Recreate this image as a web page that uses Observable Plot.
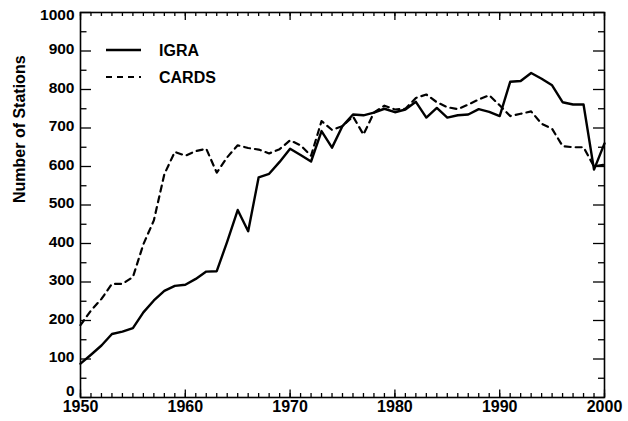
<!DOCTYPE html>
<html><head><meta charset="utf-8">
<script src="https://cdn.jsdelivr.net/npm/d3@7"></script>
<script src="https://cdn.jsdelivr.net/npm/@observablehq/plot@0.6"></script>
<style>body{margin:0;background:#fff}</style>
</head><body><div id="chart"></div>
<script>
const years = [1950,1951,1952,1953,1954,1955,1956,1957,1958,1959,
  1960,1961,1962,1963,1964,1965,1966,1967,1968,1969,
  1970,1971,1972,1973,1974,1975,1976,1977,1978,1979,
  1980,1981,1982,1983,1984,1985,1986,1987,1988,1989,
  1990,1991,1992,1993,1994,1995,1996,1997,1998,1999,2000];
const igra = [88,111,135,165,171,180,221,252,277,290,
  293,308,327,328,405,487,432,572,581,612,
  646,630,613,692,649,705,735,733,740,750,
  741,748,768,727,752,727,733,735,749,742,
  731,820,822,843,828,811,767,761,761,592,660];
const cards = [188,226,256,295,295,313,398,460,580,638,
  628,640,646,584,624,655,648,644,634,645,
  668,655,628,718,695,705,730,683,740,758,
  748,750,778,787,767,754,749,761,774,785,
  759,731,737,743,711,698,653,650,650,600,605];
const xMajor = [1950,1960,1970,1980,1990,2000];
const yMajor = [0,100,200,300,400,500,600,700,800,900,1000];
const yMinor = [50,150,250,350,450,550,650,750,850,950];
const seriesNames = ["IGRA", "CARDS"];
const yTitle = "Number of Stations";

const igraData = years.map((y, i) => ({year: y, n: igra[i]}));
const cardsData = years.map((y, i) => ({year: y, n: cards[i]}));

const W = 628, H = 421, ML = 80, MR = 24, MT = 12, MB = 24;
const PW = W - ML - MR, PH = H - MT - MB;
const font = "'Liberation Sans', Arial, Helvetica, sans-serif";
const tk = {stroke: "black", strokeWidth: 1.3};
const lab = {fontWeight: "bold", fill: "black", text: d => String(d)};
const yMid = yMajor.filter(v => v > 0 && v < 1000);
const yLow = yMajor.filter(v => v === 0);
const yTop = yMajor.filter(v => v === 1000);

const chart = Plot.plot({
  width: W, height: H,
  marginLeft: ML, marginRight: MR, marginTop: MT, marginBottom: MB,
  style: {fontFamily: font, color: "black", background: "white"},
  x: {domain: [1950, 2000], axis: null},
  y: {domain: [0, 1000], axis: null},
  marks: [
    Plot.line(cardsData, {x: "year", y: "n", stroke: "black", strokeWidth: 2.2, strokeDasharray: "6,5"}),
    Plot.line(igraData, {x: "year", y: "n", stroke: "black", strokeWidth: 2.4}),
    // inward ticks: bottom & top
    Plot.tickX(years, {x: d => d, insetTop: PH - 4, ...tk}),
    Plot.tickX(xMajor, {x: d => d, insetTop: PH - 7.5, ...tk}),
    Plot.tickX(years, {x: d => d, insetBottom: PH - 4, ...tk}),
    Plot.tickX(xMajor, {x: d => d, insetBottom: PH - 8, ...tk}),
    // inward ticks: left & right
    Plot.tickY(yMinor, {y: d => d, insetRight: PW - 6.5, ...tk}),
    Plot.tickY(yMajor, {y: d => d, insetRight: PW - 11, ...tk}),
    Plot.tickY(yMinor, {y: d => d, insetLeft: PW - 6, ...tk}),
    Plot.tickY(yMajor, {y: d => d, insetLeft: PW - 11, ...tk}),
    // tick labels
    Plot.text(xMajor, {x: d => d, frameAnchor: "bottom", lineAnchor: "top", dy: 3.5, fontSize: 16, ...lab}),
    Plot.text(yMid, {y: d => d, frameAnchor: "left", textAnchor: "end", dx: -6, dy: -1.5, fontSize: 15.5, ...lab}),
    Plot.text(yLow, {y: d => d, frameAnchor: "left", textAnchor: "end", dx: -6, dy: -6.5, fontSize: 15.5, ...lab}),
    Plot.text(yTop, {y: d => d, frameAnchor: "left", textAnchor: "end", dx: -6, dy: 3, fontSize: 15.5, ...lab}),
    Plot.text([yTitle], {frameAnchor: "left", dx: -61, dy: -2, rotate: -90, fontSize: 16, fontWeight: "bold", fill: "black"}),
    Plot.frame({stroke: "black", strokeWidth: 1.6})
  ]
});
document.getElementById("chart").appendChild(chart);

// legend (inside the plot area, upper left)
const svg = d3.select(chart);
const lg = svg.append("g").attr("font-family", font).attr("font-weight", "bold")
  .attr("font-size", 16).attr("text-anchor", "start");
const styles = [{dash: null, w: 2.4}, {dash: "6,5", w: 2.2}];
seriesNames.forEach((name, i) => {
  const yy = 50 + i * 27;
  lg.append("line").attr("x1", 106).attr("x2", 141).attr("y1", yy).attr("y2", yy)
    .attr("stroke", "black").attr("stroke-width", styles[i].w)
    .attr("stroke-dasharray", styles[i].dash);
  lg.append("text").attr("x", 159).attr("y", yy + 5.8).attr("fill", "black")
    .attr("text-anchor", "start").text(name);
});
</script>
</body></html>
